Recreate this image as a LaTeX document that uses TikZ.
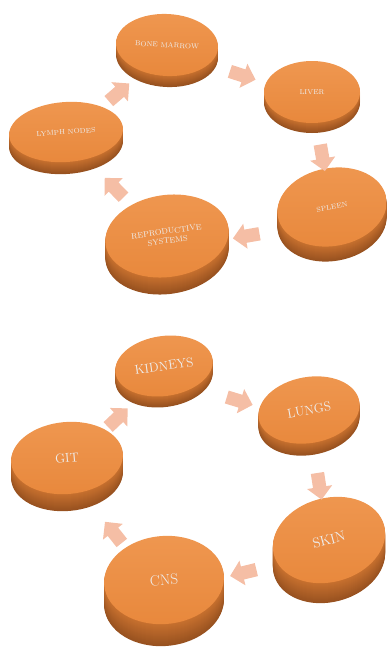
\documentclass[tikz,border=0pt]{standalone}
\usetikzlibrary{shapes.geometric,shapes.arrows,positioning}
\definecolor{discface}{HTML}{E8883C}
\definecolor{disclight}{HTML}{EF9750}
\definecolor{discside}{HTML}{C8712F}
\definecolor{discdark}{HTML}{8C4A1C}
\definecolor{flow}{HTML}{F5BEA5}
\definecolor{labelgray}{HTML}{EEEEEE}

\begin{document}
\begin{tikzpicture}[x=1pt,y=-1pt,
 disc/.style={ellipse, inner sep=0pt, top color=disclight, bottom color=discface, align=center, text=labelgray, font=\bfseries},
 flowarrow/.style={single arrow, fill=flow, draw=none, inner xsep=0pt, inner ysep=6.5pt, minimum height=27pt, single arrow head extend=6pt, sloped, allow upside down, midway}]
 \useasboundingbox (0,0) rectangle (387,651);
 % discs: name/x/y/rx/ry/angle/thickness/size/label
 \foreach \n/\x/\y/\rx/\ry/\a/\t/\fs/\lbl in {
   bm/167/45/51/31/-3/11/7/{BONE MARROW},
   liver/312/92/48/31/0/10/7/{LIVER},
   lymph/66/132/57/30/4/12/7/{LYMPH NODES},
   spleen/332/207/55/39/10/15/7/{SPLEEN},
   repro/167/236/62/41/8/17/8/{REPRODUCTIVE\\SYSTEMS},
   kidneys/164/366/49/30/8/11/13/{KIDNEYS},
   lungs/309/410/51/33/10/12/13/{LUNGS},
   git/67/458/56/36/5/17/13/{GIT},
   skin/329/540/57/42/15/20/14/{SKIN},
   cns/164/580/60/44/5/22/15/{CNS}} {
  % side of the disc
  \foreach \s in {\t,...,1} {
   \pgfmathtruncatemacro\p{100-80*\s/\t}
   \fill[discside!\p!discdark, shift={(\x,\y+\s)}, rotate=\a] (0,0) ellipse [x radius=\rx pt, y radius=\ry pt];
  }
  % top face
  \pgfmathsetmacro\bs{1.15*\fs}
  \node[disc, minimum width=2*\rx pt, minimum height=2*\ry pt, rotate=\a, font=\fontsize{\fs}{\bs}\selectfont] (\n) at (\x,\y) {\lbl};
 }

 % arrows, lowered to the middle of the discs
 \foreach \from/\to/\dy in {bm/liver/-6, liver/spleen/-5, spleen/repro/-14, repro/lymph/-6, lymph/bm/-6,
   kidneys/lungs/-12, lungs/skin/-8, skin/cns/-12, cns/git/-16, git/kidneys/-8} {
  \path ([yshift=\dy pt]\from.center) -- ([yshift=\dy pt]\to.center) node[flowarrow] {};
 };
\end{tikzpicture}
\end{document}
